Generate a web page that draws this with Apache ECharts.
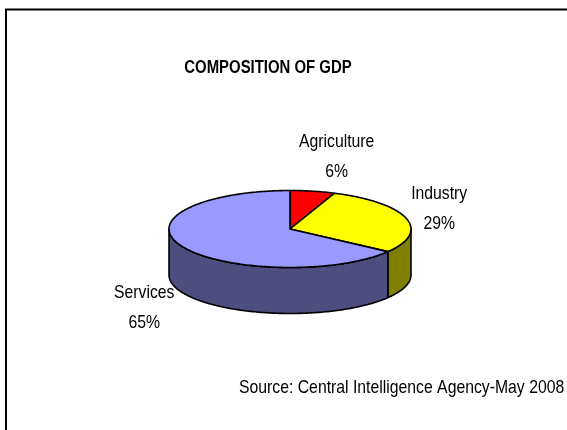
<!DOCTYPE html>
<html>
<head>
<meta charset="utf-8">
<script src="https://cdn.jsdelivr.net/npm/echarts@6/dist/echarts.min.js"></script>
<style>
  html, body { margin: 0; padding: 0; background: #fff; }
  #chart { width: 567px; height: 430px; }
</style>
</head>
<body>
<div id="chart"></div>
<script>
var categories = ['Agriculture', 'Industry', 'Services']
var values = [6, 29, 65]

var topColors = ['#FF0000', '#FFFF00', '#9999FF']
var sideColors = ['#800000', '#808000', '#4D4D80']
// label offset from the rim point at the middle of each slice
var labelOffsets = [[24, -34], [33, -9], [-38, 61]]

var FONT = "'Liberation Sans', Arial, sans-serif"
var NARROW = 0.83 // the original uses a condensed face
var CX = 290, CY = 229, RX = 121, RY = 38.5, DEPTH = 46

var total = values.reduce(function (a, b) { return a + b }, 0)
var starts = []
values.reduce(function (acc, v, i) { starts[i] = acc; return acc + v }, 0)

// angle in degrees, clockwise from 12 o'clock
function pt (deg, dy) {
  var r = deg * Math.PI / 180
  return [CX + RX * Math.sin(r), CY - RY * Math.cos(r) + (dy || 0)]
}
function arc (a0, a1, dy) {
  var pts = []
  var n = Math.max(2, Math.ceil(Math.abs(a1 - a0)))
  for (var k = 0; k <= n; k++) pts.push(pt(a0 + (a1 - a0) * k / n, dy))
  return pts
}
function sliceAngles (i, v) {
  var a0 = starts[i] / total * 360
  return [a0, a0 + v / total * 360]
}

var chart = echarts.init(document.getElementById('chart'))
chart.setOption({
  animation: false,
  graphic: [
    {
      type: 'rect',
      shape: { x: 6, y: 9.5, width: 620, height: 480 },
      style: { fill: 'none', stroke: '#000', lineWidth: 2 }
    },
    {
      type: 'text',
      x: 268, y: 68,
      scaleX: 0.785,
      style: {
        text: 'COMPOSITION OF GDP',
        font: 'bold 19px ' + FONT, fill: '#000', align: 'center', verticalAlign: 'middle'
      }
    },
    {
      type: 'text',
      x: 239, y: 388,
      scaleX: NARROW,
      style: {
        text: 'Source: Central Intelligence Agency-May 2008',
        font: '19px ' + FONT, fill: '#000', verticalAlign: 'middle'
      }
    }
  ],
  series: [
    {
      type: 'custom',
      name: 'sides',
      coordinateSystem: 'none',
      z: 1,
      data: values.map(function (v, i) { return [i, v] }),
      renderItem: function (params, api) {
        var i = api.value(0)
        var a = sliceAngles(i, api.value(1))
        var s = Math.max(a[0], 90), e = Math.min(a[1], 270)
        if (e <= s) return { type: 'group', children: [] }
        var pts = arc(s, e, 0).concat(arc(e, s, DEPTH))
        return {
          type: 'polygon',
          shape: { points: pts },
          style: { fill: sideColors[i], stroke: '#000', lineWidth: 1.6, lineJoin: 'round' }
        }
      }
    },
    {
      type: 'custom',
      name: 'tops',
      coordinateSystem: 'none',
      z: 2,
      data: values.map(function (v, i) { return [i, v] }),
      renderItem: function (params, api) {
        var i = api.value(0)
        var v = api.value(1)
        var a = sliceAngles(i, v)
        var pts = [[CX, CY]].concat(arc(a[0], a[1], 0))
        var mid = pt((a[0] + a[1]) / 2, 0)
        return {
          type: 'group',
          children: [
            {
              type: 'polygon',
              shape: { points: pts },
              style: { fill: topColors[i], stroke: '#000', lineWidth: 1.6, lineJoin: 'round' }
            },
            {
              type: 'text',
              x: mid[0] + labelOffsets[i][0],
              y: mid[1] + labelOffsets[i][1],
              scaleX: NARROW,
              style: {
                text: categories[i] + '\n' + Math.round(v / total * 100) + '%',
                x: 0,
                y: 0,
                align: 'center',
                verticalAlign: 'middle',
                font: '19px ' + FONT,
                lineHeight: 30,
                fill: '#000'
              }
            }
          ]
        }
      }
    }
  ]
})
</script>
</body>
</html>
